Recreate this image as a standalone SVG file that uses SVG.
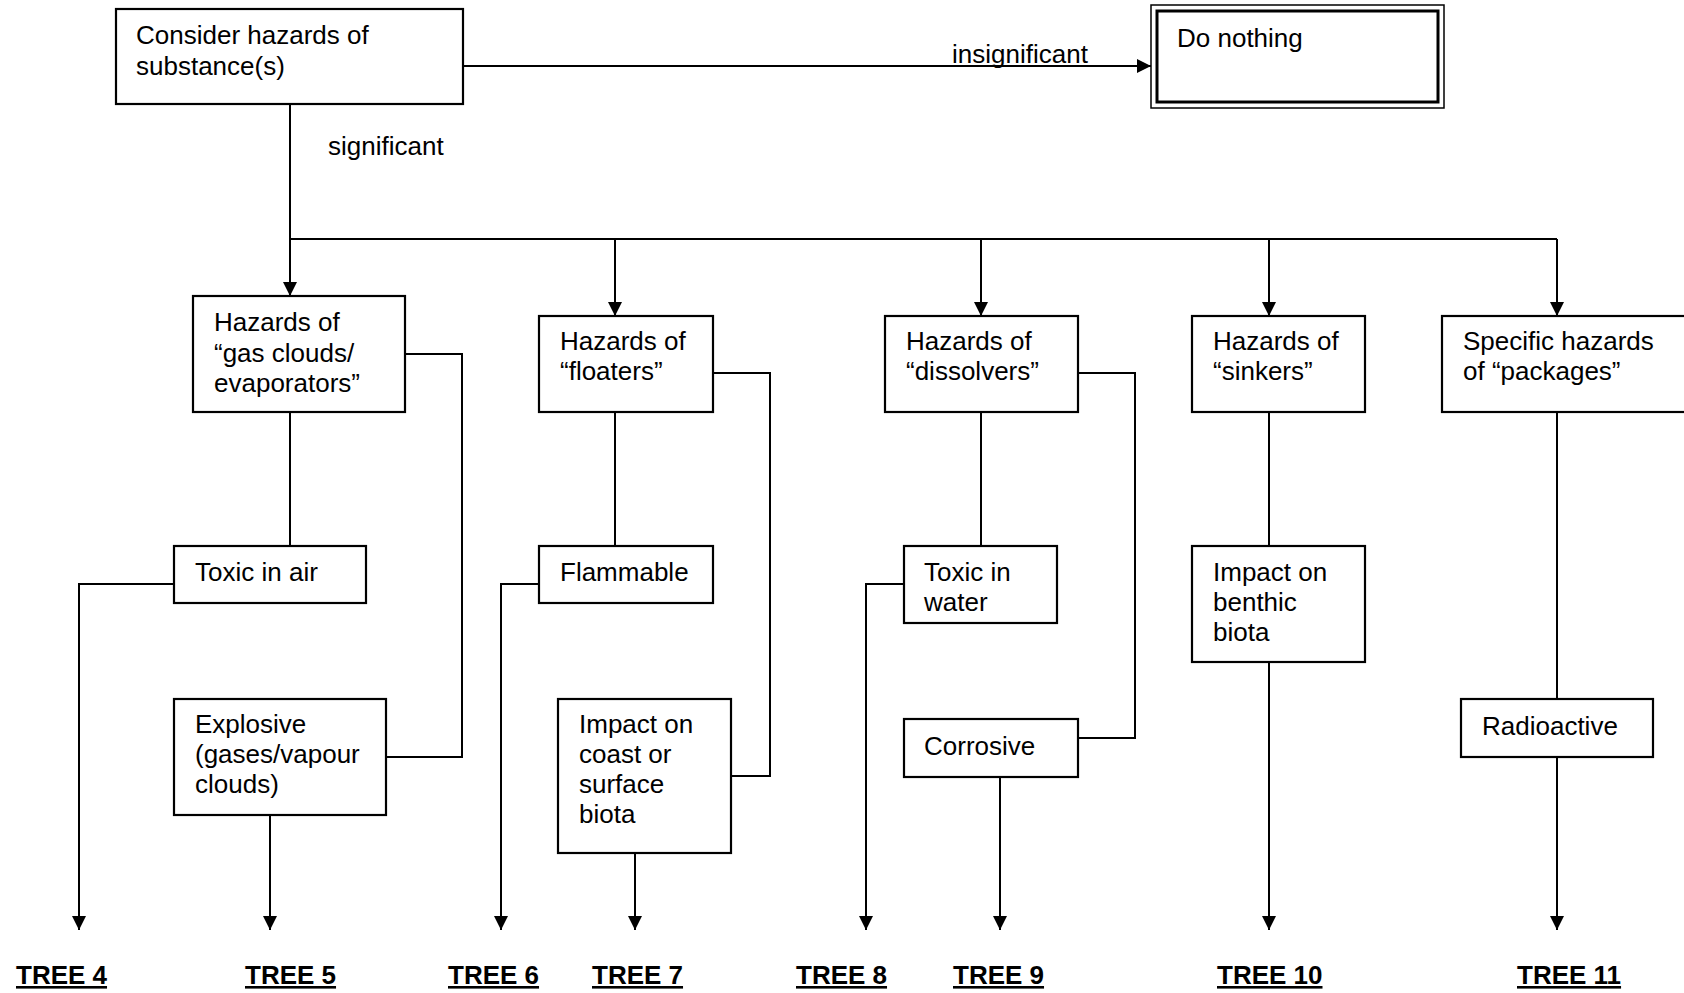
<svg xmlns="http://www.w3.org/2000/svg" width="1684" height="993" viewBox="0 0 1684 993">
<style>
.box{fill:#fff;stroke:#000;stroke-width:2.2}
.ln{fill:none;stroke:#000;stroke-width:2}
.t{font-family:"Liberation Sans",Arial,sans-serif;font-size:26px;fill:#000}
.tree{font-family:"Liberation Sans",Arial,sans-serif;font-size:26px;font-weight:bold;text-decoration:underline;fill:#000}
</style>
<defs>
<marker id="arr" markerUnits="userSpaceOnUse" markerWidth="15" markerHeight="15" refX="14" refY="7" orient="auto">
<path d="M0,0 L14,7 L0,14 z" fill="#000"/>
</marker>
</defs>
<rect width="1684" height="993" fill="#fff"/>
<g id="connectors">
<path class="ln" d="M463,66 H1151" marker-end="url(#arr)"/>
<path class="ln" d="M290,104 V296" marker-end="url(#arr)"/>
<path class="ln" d="M290,239 H1557"/>
<path class="ln" d="M615,239 V316" marker-end="url(#arr)"/>
<path class="ln" d="M981,239 V316" marker-end="url(#arr)"/>
<path class="ln" d="M1269,239 V316" marker-end="url(#arr)"/>
<path class="ln" d="M1557,239 V316" marker-end="url(#arr)"/>
<path class="ln" d="M405,354 H462 V757 H386"/>
<path class="ln" d="M290,412 V546"/>
<path class="ln" d="M174,584 H79 V930" marker-end="url(#arr)"/>
<path class="ln" d="M270,815 V930" marker-end="url(#arr)"/>
<path class="ln" d="M713,373 H770 V776 H731"/>
<path class="ln" d="M615,412 V546"/>
<path class="ln" d="M539,584 H501 V930" marker-end="url(#arr)"/>
<path class="ln" d="M635,853 V930" marker-end="url(#arr)"/>
<path class="ln" d="M1078,373 H1135 V738 H1078"/>
<path class="ln" d="M981,412 V546"/>
<path class="ln" d="M904,584 H866 V930" marker-end="url(#arr)"/>
<path class="ln" d="M1000,777 V930" marker-end="url(#arr)"/>
<path class="ln" d="M1269,412 V546"/>
<path class="ln" d="M1269,662 V930" marker-end="url(#arr)"/>
<path class="ln" d="M1557,412 V699"/>
<path class="ln" d="M1557,757 V930" marker-end="url(#arr)"/>
<text class="t" x="952" y="63">insignificant</text>
<text class="t" x="328" y="155">significant</text>
</g>
<g id="consider">
<rect class="box" x="116" y="9" width="347" height="95"/>
<text class="t" x="136" y="44">Consider hazards of</text>
<text class="t" x="136" y="75">substance(s)</text>
</g>
<g id="donothing">
<rect x="1151" y="5" width="293" height="103" fill="#fff" stroke="#000" stroke-width="1.5"/>
<rect x="1157" y="11" width="281" height="91" fill="none" stroke="#000" stroke-width="3"/>
<text class="t" x="1177" y="47">Do nothing</text>
</g>
<g id="gasclouds">
<rect class="box" x="193" y="296" width="212" height="116"/>
<text class="t" x="214" y="331">Hazards of</text>
<text class="t" x="214" y="362">“gas clouds/</text>
<text class="t" x="214" y="392">evaporators”</text>
</g>
<g id="floaters">
<rect class="box" x="539" y="316" width="174" height="96"/>
<text class="t" x="560" y="350">Hazards of</text>
<text class="t" x="560" y="380">“floaters”</text>
</g>
<g id="dissolvers">
<rect class="box" x="885" y="316" width="193" height="96"/>
<text class="t" x="906" y="350">Hazards of</text>
<text class="t" x="906" y="380">“dissolvers”</text>
</g>
<g id="sinkers">
<rect class="box" x="1192" y="316" width="173" height="96"/>
<text class="t" x="1213" y="350">Hazards of</text>
<text class="t" x="1213" y="380">“sinkers”</text>
</g>
<g id="packages">
<rect class="box" x="1442" y="316" width="260" height="96"/>
<text class="t" x="1463" y="350">Specific hazards</text>
<text class="t" x="1463" y="380">of “packages”</text>
</g>
<g id="toxicair">
<rect class="box" x="174" y="546" width="192" height="57"/>
<text class="t" x="195" y="581">Toxic in air</text>
</g>
<g id="explosive">
<rect class="box" x="174" y="699" width="212" height="116"/>
<text class="t" x="195" y="733">Explosive</text>
<text class="t" x="195" y="763">(gases/vapour</text>
<text class="t" x="195" y="793">clouds)</text>
</g>
<g id="flammable">
<rect class="box" x="539" y="546" width="174" height="57"/>
<text class="t" x="560" y="581">Flammable</text>
</g>
<g id="coast">
<rect class="box" x="558" y="699" width="173" height="154"/>
<text class="t" x="579" y="733">Impact on</text>
<text class="t" x="579" y="763">coast or</text>
<text class="t" x="579" y="793">surface</text>
<text class="t" x="579" y="823">biota</text>
</g>
<g id="toxicwater">
<rect class="box" x="904" y="546" width="153" height="77"/>
<text class="t" x="924" y="581">Toxic in</text>
<text class="t" x="924" y="611">water</text>
</g>
<g id="corrosive">
<rect class="box" x="904" y="719" width="174" height="58"/>
<text class="t" x="924" y="755">Corrosive</text>
</g>
<g id="benthic">
<rect class="box" x="1192" y="546" width="173" height="116"/>
<text class="t" x="1213" y="581">Impact on</text>
<text class="t" x="1213" y="611">benthic</text>
<text class="t" x="1213" y="641">biota</text>
</g>
<g id="radioactive">
<rect class="box" x="1461" y="699" width="192" height="58"/>
<text class="t" x="1482" y="735">Radioactive</text>
</g>
<g id="trees">
<text class="tree" x="16" y="984">TREE 4</text>
<text class="tree" x="245" y="984">TREE 5</text>
<text class="tree" x="448" y="984">TREE 6</text>
<text class="tree" x="592" y="984">TREE 7</text>
<text class="tree" x="796" y="984">TREE 8</text>
<text class="tree" x="953" y="984">TREE 9</text>
<text class="tree" x="1217" y="984">TREE 10</text>
<text class="tree" x="1517" y="984">TREE 11</text>
</g>
</svg>
